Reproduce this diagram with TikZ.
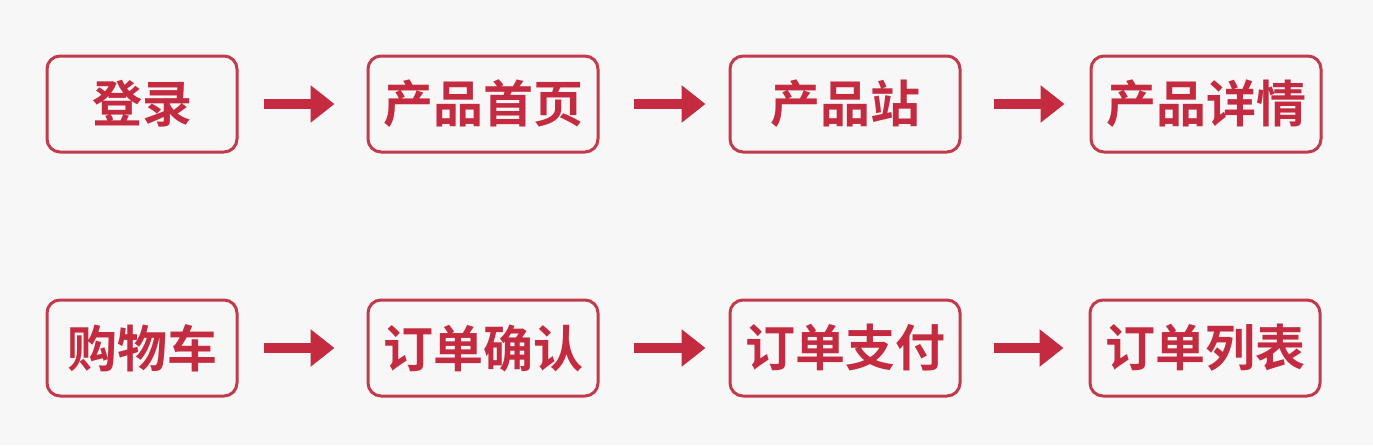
\documentclass[tikz,border=0pt]{standalone}
\usepackage{fontspec}
\newfontfamily\cjk{Noto Sans CJK SC Bold}
\usetikzlibrary{arrows.meta}
\definecolor{boxred}{HTML}{C23A4B}
\definecolor{darkred}{HTML}{C42B41}
\definecolor{bg}{HTML}{F7F7F7}
\tikzset{
  stepbox/.style={draw=boxred,line width=3pt,rounded corners=13pt,
    minimum height=96pt,text=darkred,font=\cjk\fontsize{50}{50}\selectfont},
  flow/.style={draw=darkred,line width=10pt,
    -{Triangle[length=24pt,width=36pt]}}
}
\begin{document}
\begin{tikzpicture}[x=1pt,y=-1pt]
        \def\rowa{104} \def\rowb{348}
        \fill[bg] (0,0) rectangle (1373,445);
        \useasboundingbox (0,0) rectangle (1373,445);

        \node (login) at (142,\rowa) [stepbox,minimum width=190pt] {登录};
        \node (home) at (483,\rowa) [stepbox,minimum width=230pt] {产品首页};
        \node (site) at (845,\rowa) [stepbox,minimum width=230pt] {产品站};
        \node (detail) at (1206,\rowa) [stepbox,minimum width=230pt] {产品详情};

        \node (cart) at (142,\rowb) [stepbox,minimum width=190pt] {购物车};
        \node (confirm) at (483,\rowb) [stepbox,minimum width=230pt] {订单确认};
        \node (pay) at (845,\rowb) [stepbox,minimum width=230pt] {订单支付};
        \node (orders) at (1205,\rowb) [stepbox,minimum width=230pt] {订单列表};

        \draw[flow,shorten <=25pt,shorten >=32pt] (login) -- (home);
        \draw[flow,shorten <=34pt,shorten >=23pt] (home) -- (site);
        \draw[flow,shorten <=32pt,shorten >=25pt] (site) -- (detail);
        \draw[flow,shorten <=25pt,shorten >=32pt] (cart) -- (confirm);
        \draw[flow,shorten <=34pt,shorten >=23pt] (confirm) -- (pay);
        \draw[flow,shorten <=32pt,shorten >=25pt] (pay) -- (orders);
      \end{tikzpicture}
\end{document}
